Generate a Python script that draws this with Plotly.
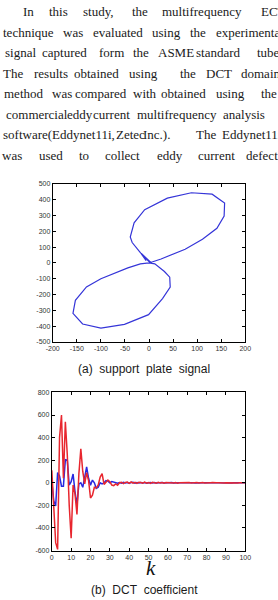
import plotly.graph_objects as go

# ---------------- data ----------------
# (a) support plate signal (Lissajous figure)
liss_x = [0, 25, 75, 111, 141, 156, 157, 131, 88, 38, -9, -31, -39, -35, -18, -6,
          -14, 3, -10, 6, -16, 2, -12, 4, 0,
          -18, -44, -100, -130, -153, -158, -138, -100, -51, -1, 28, 44, 43, 32, 12, 0]
liss_y = [0, 25, 87, 150, 219, 296, 379, 435, 444, 410, 337, 254, 164, 129, 66, 14,
          50, 0, 40, -3, 60, 2, 45, -2, 0,
          -6, -31, -100, -152, -236, -319, -386, -412, -388, -327, -225, -152, -90, -54, -6, 0]

# (b) DCT coefficients, k = 0..100
k_vals = list(range(101))
red_vals = [110, -220, -530, -590, 400, 600, 40, 540, 250, -200, -490, -20, -100, -280, 80,
            300, 100, -10, 90, 20, -135, -110, -40, -45, -20, 50, 80, -15, 10, 25,
            10, -20, -25, -10, -22,
            0, 5, -8, 3, 6, -5, 8, -3, 4, -6, 5, 2, -4, 6, -3, 3, -5, 4, 2, -3,
            4, -2, 3, -4, 2, 1, -2, 3, -1, 2, -3, 1, 2, -2, 1, -1, 2, -1, 1, -2,
            3, -1, 1, 2, -2, 1, -1, 1, 2, -1, 0, 1, -1, 2, -1, 1, 0, -1, 1, 0, 1,
            -1, 1, 0, -1, 0]
blue_vals = [10, -160, -205, 90, 60, -30, -30, 205, 200, -20, 10, 78, -80, -195, -10,
             0, -40, 60, 140, 40, -22, 24, 0, -50, -40, 0, -10, 0, 20, 15,
             0, 10, 5, 0, -3,
             2, -3, 4, -2, 3, -4, 2, 5, -3, 2, -2, 3, -1, 2, -3, 1, 2, -2, 3, -1,
             1, -2, 2, -1, 1, 0, -1, 2, -1, 1, -2, 1, 0, 1, -1, 2, -1, 0, 1, -1,
             1, 0, -1, 1, 0, 1, -1, 0, 1, -1, 0, 1, 0, -1, 1, 0, 0, 1, -1, 0, 0,
             1, 0, -1, 0, 0]

# tick labels
a_xticks = [-200, -150, -100, -50, 0, 50, 100, 150, 200]
a_xlabels = ["-200", "-150", "-100", "-50", "0", "50", "100", "150", "200"]
a_yticks = [-500, -400, -300, -200, -100, 0, 100, 200, 300, 400, 500]
a_ylabels = ["-500", "-400", "-300", "-200", "-100", "0", "100", "200", "300", "400", "500"]
b_xticks = [0, 10, 20, 30, 40, 50, 60, 70, 80, 90, 100]
b_xlabels = ["0", "10", "20", "30", "40", "50", "60", "70", "80", "90", "100"]
b_yticks = [-600, -400, -200, 0, 200, 400, 600, 800]
b_ylabels = ["-600", "-400", "-200", "0", "200", "400", "600", "800"]

# paragraph text (word by word)
para_words = [
    ["In", "this", "study,", "the", "multifrequency", "ECT"],
    ["technique", "was", "evaluated", "using", "the", "experimental"],
    ["signal", "captured", "form", "the", "ASME", "standard", "tube."],
    ["The", "results", "obtained", "using", "the", "DCT", "domain"],
    ["method", "was", "compared", "with", "obtained", "using", "the"],
    ["commercial", "eddy", "current", "multifrequency", "analysis"],
    ["software(Eddynet11i,", "Zetec", "Inc.).", "The", "Eddynet11i"],
    ["was", "used", "to", "collect", "eddy", "current", "defect"],
]

# ---------------- layout helpers ----------------
W, H = 278, 600
word_px = [
    [18, 45, 81, 132, 164, 267],
    [-3, 60, 91, 153, 193, 220],
    [-1, 38, 97, 133, 159, 199, 263],
    [-3, 29, 71, 129, 182, 210, 246],
    [-2, 48, 72, 133, 162, 220, 267],
    [0, 64, 91, 137, 227],
    [-3, 115, 144, 199, 226],
    [-4, 34, 76, 104, 158, 201, 252],
]
PAD = 3

def px_x(p):
    return p / W

def px_y(p):
    return 1 - p / H

annotations = []
for i, (words, xs) in enumerate(zip(para_words, word_px)):
    yc = 8 + 20.7 * i
    for w, xp in zip(words, xs):
        annotations.append(dict(
            text=w, x=px_x(xp - PAD), y=px_y(yc), xref="paper", yref="paper",
            xanchor="left", yanchor="middle", showarrow=False,
            font=dict(family="Liberation Serif", size=13, color="#1a1a1a"),
        ))

annotations.append(dict(
    text="(a)\u00a0\u00a0support\u00a0\u00a0plate\u00a0\u00a0signal",
    x=px_x(144), y=px_y(369), xref="paper", yref="paper",
    xanchor="center", yanchor="middle", showarrow=False,
    font=dict(family="Liberation Sans", size=12, color="#1a1a1a")))
annotations.append(dict(
    text="<i>k</i>", x=px_x(151), y=px_y(571), xref="paper", yref="paper",
    xanchor="center", yanchor="middle", showarrow=False,
    font=dict(family="Liberation Serif", size=21, color="#111")))
annotations.append(dict(
    text="(b)\u00a0\u00a0DCT\u00a0\u00a0coefficient",
    x=px_x(144), y=px_y(593), xref="paper", yref="paper",
    xanchor="center", yanchor="middle", showarrow=False,
    font=dict(family="Liberation Sans", size=12, color="#1a1a1a")))

fig = go.Figure()
fig.add_trace(go.Scatter(x=liss_x, y=liss_y, mode="lines",
                         line=dict(color="#3535d8", width=1.2),
                         xaxis="x", yaxis="y", showlegend=False))
fig.add_trace(go.Scatter(x=k_vals, y=blue_vals, mode="lines",
                         line=dict(color="#2828e0", width=1.5),
                         xaxis="x2", yaxis="y2", showlegend=False))
fig.add_trace(go.Scatter(x=k_vals, y=red_vals, mode="lines",
                         line=dict(color="#e8262e", width=1.5),
                         xaxis="x2", yaxis="y2", showlegend=False))

axis_common = dict(showline=True, linecolor="black", linewidth=1, mirror="ticks",
                   ticks="inside", ticklen=3, tickcolor="black", showgrid=False,
                   zeroline=False, tickfont=dict(family="Liberation Sans", size=7, color="#333"))

fig.update_layout(
    width=W, height=H, margin=dict(l=0, r=0, t=0, b=0),
    paper_bgcolor="white", plot_bgcolor="white",
    xaxis=dict(domain=[px_x(48), px_x(250)], range=[-200, 200],
               tickvals=a_xticks, ticktext=a_xlabels, anchor="y", **axis_common),
    yaxis=dict(domain=[px_y(342), px_y(182)], range=[-500, 500],
               tickvals=a_yticks, ticktext=a_ylabels, anchor="x", **axis_common),
    xaxis2=dict(domain=[px_x(47), px_x(250)], range=[0, 100],
                tickvals=b_xticks, ticktext=b_xlabels, anchor="y2", **axis_common),
    yaxis2=dict(domain=[px_y(553), px_y(393)], range=[-600, 800],
                tickvals=b_yticks, ticktext=b_ylabels, anchor="x2", **axis_common),
    annotations=annotations,
)

fig.write_html("out.html")
